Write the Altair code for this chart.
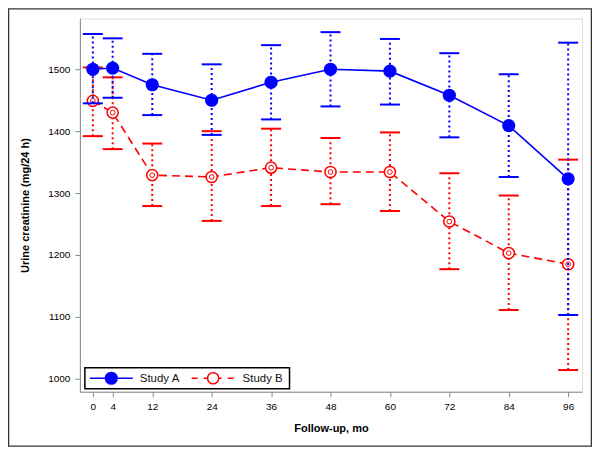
import altair as alt
import pandas as pd

# ---- data ----
months = [0, 4, 12, 24, 36, 48, 60, 72, 84, 96]
studies = ["Study A", "Study B"]
a_mean = [1500, 1502, 1475, 1450, 1479, 1500, 1497, 1458, 1409, 1323]
a_upper = [1557, 1550, 1525, 1508, 1539, 1560, 1549, 1526, 1492, 1543]
a_lower = [1445, 1454, 1426, 1394, 1419, 1440, 1443, 1390, 1326, 1103]
b_mean = [1449, 1430, 1329, 1326, 1341, 1334, 1334, 1254, 1203, 1185]
b_upper = [1503, 1487, 1380, 1400, 1404, 1389, 1398, 1332, 1296, 1354]
b_lower = [1392, 1371, 1279, 1255, 1279, 1282, 1271, 1177, 1111, 1014]
y_ticks = [1000, 1100, 1200, 1300, 1400, 1500]

colors = {"Study A": "#0000FF", "Study B": "#FF0000"}

df_a = pd.DataFrame({"month": months, "mean": a_mean, "upper": a_upper, "lower": a_lower, "study": studies[0]})
df_b = pd.DataFrame({"month": months, "mean": b_mean, "upper": b_upper, "lower": b_lower, "study": studies[1]})

W, H = 503, 374
FONT = "Liberation Sans"

xscale = alt.Scale(domain=[-2.62, 98.8], nice=False, zero=False)
yscale = alt.Scale(domain=[979, 1582.3], nice=False, zero=False)

xax = alt.Axis(values=months, title="Follow-up, mo", grid=False, tickSize=5, format="d",
               labelPadding=5, titleX=W / 2, titleY=37, titleBaseline="middle")
yax = alt.Axis(values=y_ticks, title="Urine creatinine (mg/24 h)", grid=False, tickSize=5, format="d",
               labelPadding=5, titleX=-54, titleY=H / 2, titleAngle=-90,
               titleBaseline="middle", titleAlign="center")

X = alt.X("month:Q", scale=xscale, axis=xax)
Y = alt.Y("mean:Q", scale=yscale, axis=yax)


def study_layers(df, color, filled, dash):
    base = alt.Chart(df)
    err = base.mark_rule(color=color, strokeWidth=2, strokeDash=[2, 3]).encode(
        x=X, y=alt.Y("lower:Q", scale=yscale, axis=yax), y2="upper:Q")
    cap_u = base.mark_rule(color=color, strokeWidth=2, xOffset=-10, x2Offset=10).encode(
        x=X, x2="month:Q", y=alt.Y("upper:Q", scale=yscale, axis=yax))
    cap_l = base.mark_rule(color=color, strokeWidth=2, xOffset=-10, x2Offset=10).encode(
        x=X, x2="month:Q", y=alt.Y("lower:Q", scale=yscale, axis=yax))
    line_kw = dict(color=color, strokeWidth=1.6)
    if dash:
        line_kw["strokeDash"] = dash
    line = base.mark_line(**line_kw).encode(x=X, y=Y)
    layers = [err, cap_u, cap_l, line]
    if filled:
        layers.append(base.mark_point(filled=True, color=color, size=175, opacity=1).encode(x=X, y=Y))
    else:
        layers.append(base.mark_point(filled=False, color=color, size=125, strokeWidth=1.5,
                                      fill="white", fillOpacity=1, opacity=1).encode(x=X, y=Y))
        layers.append(base.mark_point(filled=False, color=color, size=22, strokeWidth=1,
                                      opacity=1).encode(x=X, y=Y))
    return layers


layers = study_layers(df_b, colors["Study B"], False, [8, 5]) + \
         study_layers(df_a, colors["Study A"], True, None)

# ---- legend (decoration, drawn inside the plot at bottom-left) ----
leg_df = pd.DataFrame({"study": studies})
box = alt.Chart(leg_df.head(1)).mark_rect(fill="white", stroke="black", strokeWidth=1.5).encode(
    x=alt.value(5), x2=alt.value(210), y=alt.value(350), y2=alt.value(371))
leg_a_line = alt.Chart(leg_df.head(1)).mark_rule(color=colors["Study A"], strokeWidth=1.6).encode(
    x=alt.value(10), x2=alt.value(53), y=alt.value(360.5))
leg_a_pt = alt.Chart(leg_df.head(1)).mark_point(filled=True, color=colors["Study A"], size=175, opacity=1).encode(
    x=alt.value(31.5), y=alt.value(360.5))
leg_a_txt = alt.Chart(leg_df.head(1)).mark_text(align="left", baseline="middle", font=FONT, fontSize=11.5,
                                                color="#111").encode(
    x=alt.value(60), y=alt.value(361), text="study:N")
leg_b_line = alt.Chart(leg_df.tail(1)).mark_rule(color=colors["Study B"], strokeWidth=1.6, strokeDash=[6, 6]).encode(
    x=alt.value(112), x2=alt.value(156), y=alt.value(360.5))
leg_b_pt = alt.Chart(leg_df.tail(1)).mark_point(filled=False, color=colors["Study B"], size=125, strokeWidth=1.5,
                                                fill="white", fillOpacity=1, opacity=1).encode(
    x=alt.value(133.5), y=alt.value(360.5))
leg_b_txt = alt.Chart(leg_df.tail(1)).mark_text(align="left", baseline="middle", font=FONT, fontSize=11.5,
                                                color="#111").encode(
    x=alt.value(163), y=alt.value(361), text="study:N")

# outer frame around the whole figure
frame = alt.Chart(leg_df.head(1)).mark_rect(fill="white", fillOpacity=0, stroke="#333333", strokeWidth=1.5).encode(
    x=alt.value(-71.5), x2=alt.value(512.5), y=alt.value(-9.5), y2=alt.value(428.5))

chart = alt.layer(*layers, box, leg_a_line, leg_a_pt, leg_a_txt, leg_b_line, leg_b_pt, leg_b_txt, frame).properties(
    width=W, height=H,
    padding={"left": 72, "top": 10, "right": 10, "bottom": 55},
    autosize=alt.AutoSizeParams(type="none"),
).configure_view(stroke="black", strokeWidth=1.5).configure_axis(
    labelFont=FONT, labelFontSize=11.5, labelColor="#111", tickColor="black", tickWidth=1.2,
    domainColor="black", domainWidth=1.5,
    titleFont=FONT, titleFontSize=12, titleFontWeight="bold", titleColor="black",
).configure(background="white")

chart.save("out.html", embed_options={"renderer": "svg", "actions": False})
